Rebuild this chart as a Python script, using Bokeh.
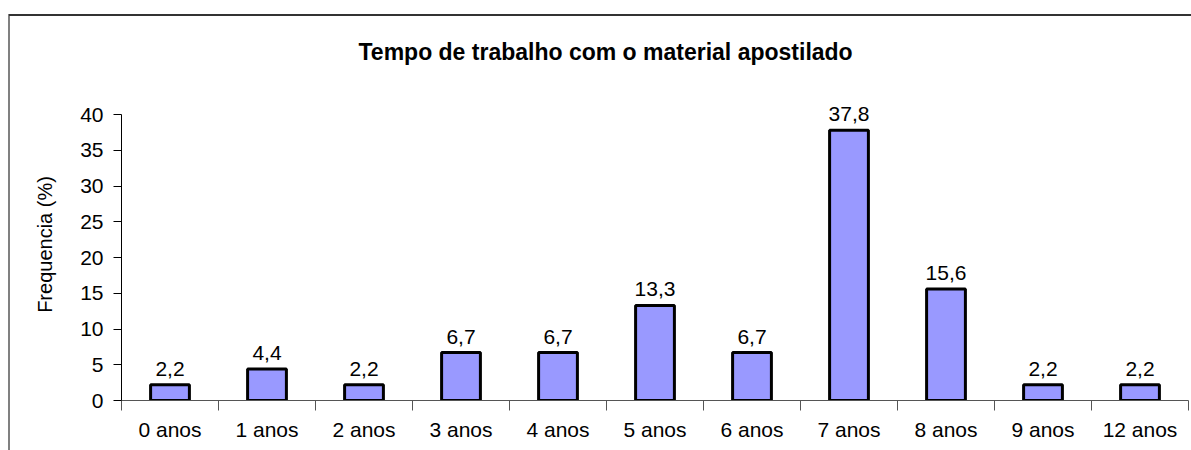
from bokeh.plotting import figure
from bokeh.models import Range1d, FixedTicker, ColumnDataSource
from bokeh.core.properties import value
from bokeh.embed import file_html
from bokeh.resources import INLINE

categories = ["0 anos", "1 anos", "2 anos", "3 anos", "4 anos", "5 anos",
              "6 anos", "7 anos", "8 anos", "9 anos", "12 anos"]
frequencia = [2.2, 4.4, 2.2, 6.7, 6.7, 13.3, 6.7, 37.8, 15.6, 2.2, 2.2]
y_ticks = [0, 5, 10, 15, 20, 25, 30, 35, 40]
title_text = "Tempo de trabalho com o material apostilado"
y_label = "Frequencia (%)"

FONT = "Liberation Sans"
xs = list(range(len(categories)))
labels = [f"{v:.1f}".replace(".", ",") for v in frequencia]
src = ColumnDataSource(dict(x=xs, y=frequencia, label=labels))

bg = ("linear-gradient(#333333,#333333) 9px 14px / 1300px 2px no-repeat, "
      "linear-gradient(#808080,#808080) 8px 14px / 2px 600px no-repeat, white")

p = figure(width=1191, height=450, output_backend="svg", toolbar_location=None,
           x_range=Range1d(-0.5, len(categories) - 0.5), y_range=Range1d(0, 43.64),
           min_border_left=121, min_border_right=3, min_border_top=88, min_border_bottom=50,
           title=title_text, styles={"background": bg})
p.outline_line_color = None
p.xgrid.visible = False
p.ygrid.visible = False
p.background_fill_color = "white"
p.border_fill_color = None

p.title.align = "left"
p.title.offset = 237
p.title.standoff = 44
p.title.vertical_align = "top"
p.title.text_font = FONT
p.title.text_font_size = "23px"
p.title.text_font_style = "bold"
p.title.text_color = "black"

p.vbar(x="x", top="y", width=0.40, source=src, fill_color="#9999FF",
       line_color="black", line_width=3)
p.text(x="x", y="y", text="label", source=src, text_align="center",
       text_baseline="alphabetic", y_offset=-16, text_font=value(FONT),
       text_font_size="21px", text_color="black")

# x axis
xa = p.xaxis[0]
xa.ticker = FixedTicker(ticks=xs, minor_ticks=[i - 0.5 for i in range(len(categories) + 1)])
xa.major_label_overrides = {i: c for i, c in enumerate(categories)}
xa.major_tick_out = 0
xa.major_tick_in = 0
xa.minor_tick_out = 10
xa.minor_tick_in = 0
xa.minor_tick_line_color = "#555555"
xa.axis_line_color = "#555555"
xa.major_label_standoff = 7
xa.major_label_text_font = FONT
xa.major_label_text_font_size = "21px"
xa.major_label_text_color = "black"

# y axis
ya = p.yaxis[0]
ya.ticker = FixedTicker(ticks=y_ticks, minor_ticks=[])
ya.bounds = (0, 40)
ya.major_tick_out = 8
ya.major_tick_in = 0
ya.minor_tick_out = 0
ya.minor_tick_in = 0
ya.axis_line_color = "black"
ya.major_tick_line_color = "black"
ya.major_label_standoff = 10
ya.major_label_text_font = FONT
ya.major_label_text_font_size = "21px"
ya.major_label_text_color = "black"
ya.axis_label = y_label
ya.axis_label_text_font = FONT
ya.axis_label_text_font_size = "20px"
ya.axis_label_text_font_style = "normal"
ya.axis_label_text_color = "black"
ya.axis_label_standoff = 21

open("out.html", "w").write(file_html(p, INLINE))
